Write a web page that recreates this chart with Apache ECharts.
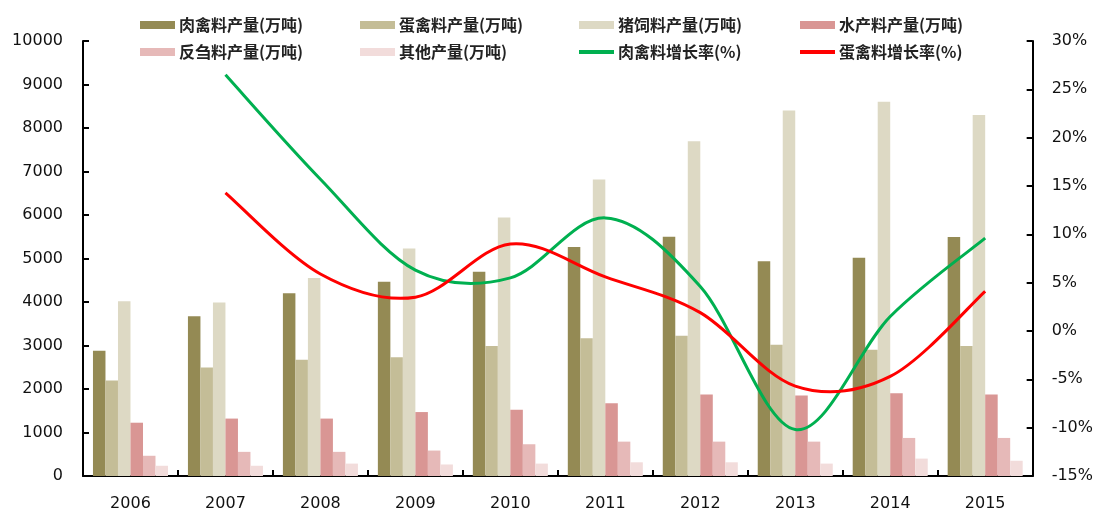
<!DOCTYPE html>
<html>
<head>
<meta charset="utf-8">
<script src="https://cdn.jsdelivr.net/npm/echarts@6/dist/echarts.min.js"></script>
<style>html,body{margin:0;padding:0;background:#fff}#c{width:1096px;height:512px}</style>
</head>
<body>
<div id="c"></div>
<script>
const years = ['2006','2007','2008','2009','2010','2011','2012','2013','2014','2015'];
const meatPoultry = [2880, 3670, 4200, 4465, 4695, 5265, 5500, 4935, 5015, 5495];
const eggPoultry  = [2195, 2495, 2670, 2730, 2990, 3165, 3225, 3020, 2900, 2990];
const pigFeed     = [4020, 3990, 4550, 5230, 5940, 6815, 7695, 8400, 8605, 8300];
const aquaFeed    = [1225, 1320, 1320, 1470, 1525, 1670, 1875, 1850, 1905, 1875];
const ruminant    = [465, 555, 555, 585, 730, 790, 790, 790, 875, 875];
const otherFeed   = [235, 235, 285, 265, 285, 315, 315, 285, 400, 350];
const meatGrowth  = [null, 26.5, 15.7, 6.3, 5.5, 11.7, 4.6, -10.2, 1.5, 9.6];
const eggGrowth   = [null, 14.3, 5.9, 3.5, 9.0, 5.6, 1.9, -5.7, -4.7, 4.1];
const leftTicks = {min: 0, max: 10000, interval: 1000};
const rightTicks = {min: -15, max: 30, interval: 5};

const names = ['肉禽料产量(万吨)','蛋禽料产量(万吨)','猪饲料产量(万吨)','水产料产量(万吨)',
               '反刍料产量(万吨)','其他产量(万吨)','肉禽料增长率(%)','蛋禽料增长率(%)'];
const colors = ['#948A54','#C4BD97','#DDD9C4','#D99694','#E6B9B8','#F2DCDB','#00B050','#FF0000'];
const barData = [meatPoultry, eggPoultry, pigFeed, aquaFeed, ruminant, otherFeed];

const axisFont = {fontFamily: 'DejaVu Sans', fontSize: 16, color: '#111'};
const legendPos = [[140,16],[360,16],[579,16],[800,16],[140,43],[360,43],[579,43],[800,43]];

const legends = names.map((n, i) => ({
  data: [n], left: legendPos[i][0], top: legendPos[i][1], padding: 0,
  itemWidth: 35, itemHeight: i >= 6 ? 4 : 8, icon: 'rect', itemGap: 0,
  textStyle: {fontFamily: 'Noto Sans CJK SC', fontSize: 16, fontWeight: 'bold', color: '#222', lineHeight: 18, padding: [0,0,0,-1]}
}));

const series = barData.map((d, i) => ({
  name: names[i], type: 'bar', data: d, yAxisIndex: 0,
  barGap: '0%', barCategoryGap: '21%',
  itemStyle: {color: colors[i]}
}));

// Smoothed line (uniform Catmull-Rom / Excel-style bezier) through the library's own coordinate mapping
function smoothLineSeries(name, values, color) {
  const pts = [];
  values.forEach((v, i) => { if (v !== null) pts.push([i, v]); });
  return {
    name: name, type: 'custom', yAxisIndex: 1, data: pts, z: 5,
    encode: {x: 0, y: 1},
    itemStyle: {color: color},
    renderItem: function (params, api) {
      if (params.dataIndex !== 0) return null;
      const p = pts.map(d => api.coord([d[0], d[1]]));
      let path = 'M' + p[0][0] + ' ' + p[0][1];
      for (let k = 0; k < p.length - 1; k++) {
        const p0 = p[Math.max(k - 1, 0)], p1 = p[k], p2 = p[k + 1], p3 = p[Math.min(k + 2, p.length - 1)];
        const c1x = p1[0] + (p2[0] - p0[0]) / 6, c1y = p1[1] + (p2[1] - p0[1]) / 6;
        const c2x = p2[0] - (p3[0] - p1[0]) / 6, c2y = p2[1] - (p3[1] - p1[1]) / 6;
        path += ' C' + c1x + ' ' + c1y + ' ' + c2x + ' ' + c2y + ' ' + p2[0] + ' ' + p2[1];
      }
      return {
        type: 'path', shape: {pathData: path},
        style: {stroke: color, fill: 'none', lineWidth: 3, lineJoin: 'round'},
        silent: true
      };
    }
  };
}
series.push(smoothLineSeries(names[6], meatGrowth, colors[6]));
series.push(smoothLineSeries(names[7], eggGrowth, colors[7]));

const chart = echarts.init(document.getElementById('c'), null, {renderer: 'canvas'});
chart.setOption({
  animation: false,
  backgroundColor: '#fff',
  legend: legends,
  grid: {left: 83, right: 63, top: 41, bottom: 35, containLabel: false},
  xAxis: {
    type: 'category', data: years,
    axisLine: {show: true, lineStyle: {color: '#000', width: 2}},
    axisTick: {show: true, inside: true, length: 6, lineStyle: {color: '#000', width: 2}},
    axisLabel: Object.assign({margin: 20}, axisFont),
    splitLine: {show: false}
  },
  yAxis: [
    Object.assign({
      type: 'value', position: 'left',
      axisLine: {show: true, lineStyle: {color: '#000', width: 2}},
      axisTick: {show: true, inside: true, length: 6, lineStyle: {color: '#000', width: 2}},
      axisLabel: Object.assign({margin: 20, formatter: v => String(v)}, axisFont),
      splitLine: {show: false}
    }, leftTicks),
    Object.assign({
      type: 'value', position: 'right',
      axisLine: {show: true, lineStyle: {color: '#000', width: 2}},
      axisTick: {show: true, inside: true, length: 6, lineStyle: {color: '#000', width: 2}},
      axisLabel: Object.assign({margin: 19, formatter: '{value}%'}, axisFont),
      splitLine: {show: false}
    }, rightTicks)
  ],
  series: series
});
</script>
</body>
</html>
